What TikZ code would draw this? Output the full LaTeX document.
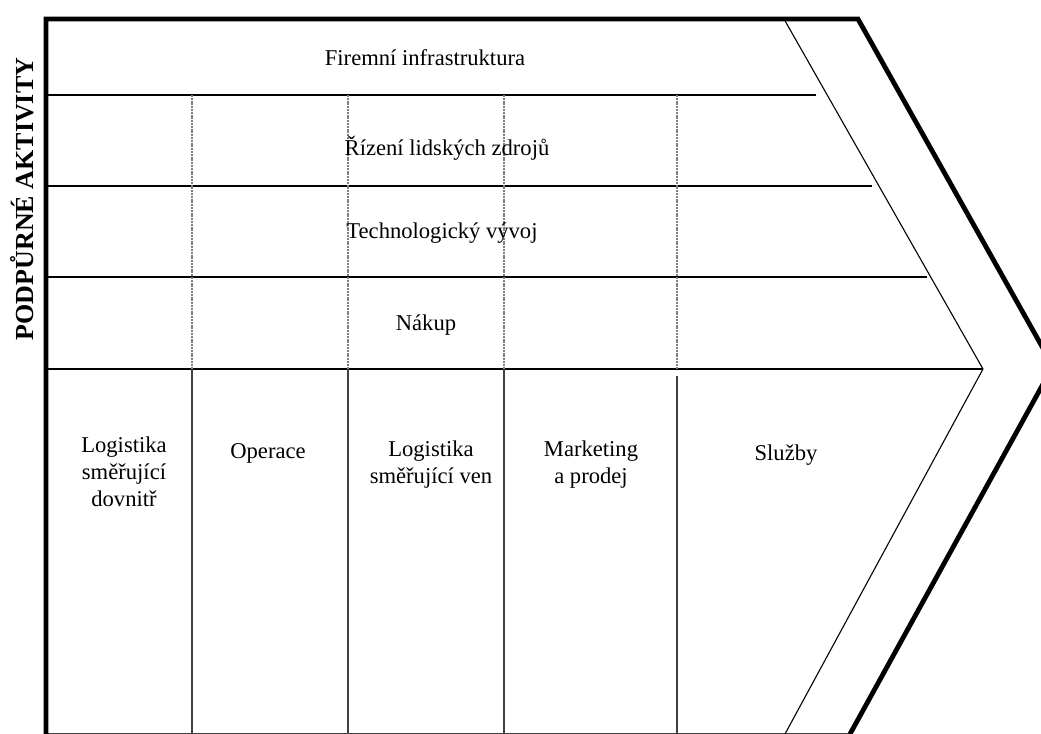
\documentclass[tikz,border=0pt]{standalone}
\usepackage{fontspec}
\setmainfont{Liberation Serif}

\tikzset{
  thickline/.style={line width=2.4pt, line join=miter},
  thinline/.style={line width=0.55pt},
  dotline/.style={line width=0.7pt, gray, dash pattern=on 1pt off 0.4pt},
  colline/.style={line width=0.7pt, black!75},
  txt/.style={font=\fontsize{11.3}{13.5}\selectfont, align=center, inner sep=0pt, anchor=base},
}

\begin{document}
\begin{tikzpicture}[x=0.5pt, y=-0.5pt]
    \useasboundingbox (0,0) rectangle (1041,734);
    \clip (0,0) rectangle (1041,734);

    % outline points
    \coordinate (bl) at (46,734);
    \coordinate (tl) at (46,19);
    \coordinate (tr) at (858,19);
    \coordinate (tip) at (1053,366);
    \coordinate (br) at (850,734);
    \coordinate (itop) at (784,19);
    \coordinate (itip) at (983,369);
    \coordinate (ibot) at (785,734);

    % support rows
    \foreach \y/\e in {95/816, 186/872, 277/927}
        \draw[thinline] (46,\y) -- (\e,\y);
    \draw[thinline] (46,369) -- (itip);

    % columns
    \foreach \x in {192, 348, 504, 677}
        \draw[dotline] (\x,95) -- (\x,369);
    \foreach \x in {192, 348, 504}
        \draw[colline] (\x,369) -- (\x,734);
    \draw[colline] (677,376) -- (677,734);
    \draw[colline] (bl) -- (br);

    % inner chevron
    \draw[thinline] (itop) -- (itip) -- (ibot);

    % outer frame
    \draw[thickline] (bl) -- (tl) -- (tr) -- (tip) -- (br);

    % support activities
    \node[txt] (infra) at (425,65) {Firemní infrastruktura};
    \node[txt] (hr) at (447,155) {Řízení lidských zdrojů};
    \node[txt] (tech) at (442,238) {Technologický vývoj};
    \node[txt] (buy) at (426,330) {Nákup};

    % primary activities
    \node[txt] (inlog) at (124,506) {Logistika\\směřující\\dovnitř};
    \node[txt] (ops) at (268,458) {Operace};
    \node[txt] (outlog) at (431,483) {Logistika\\směřující ven};
    \node[txt] (mkt) at (591,483) {Marketing\\a prodej};
    \node[txt] (serv) at (786,460) {Služby};

    \node[font=\fontsize{13}{15}\selectfont\bfseries, rotate=90, anchor=base, inner sep=0pt] (support) at (33,199) {PODPŮRNÉ AKTIVITY};
\end{tikzpicture}
\end{document}
